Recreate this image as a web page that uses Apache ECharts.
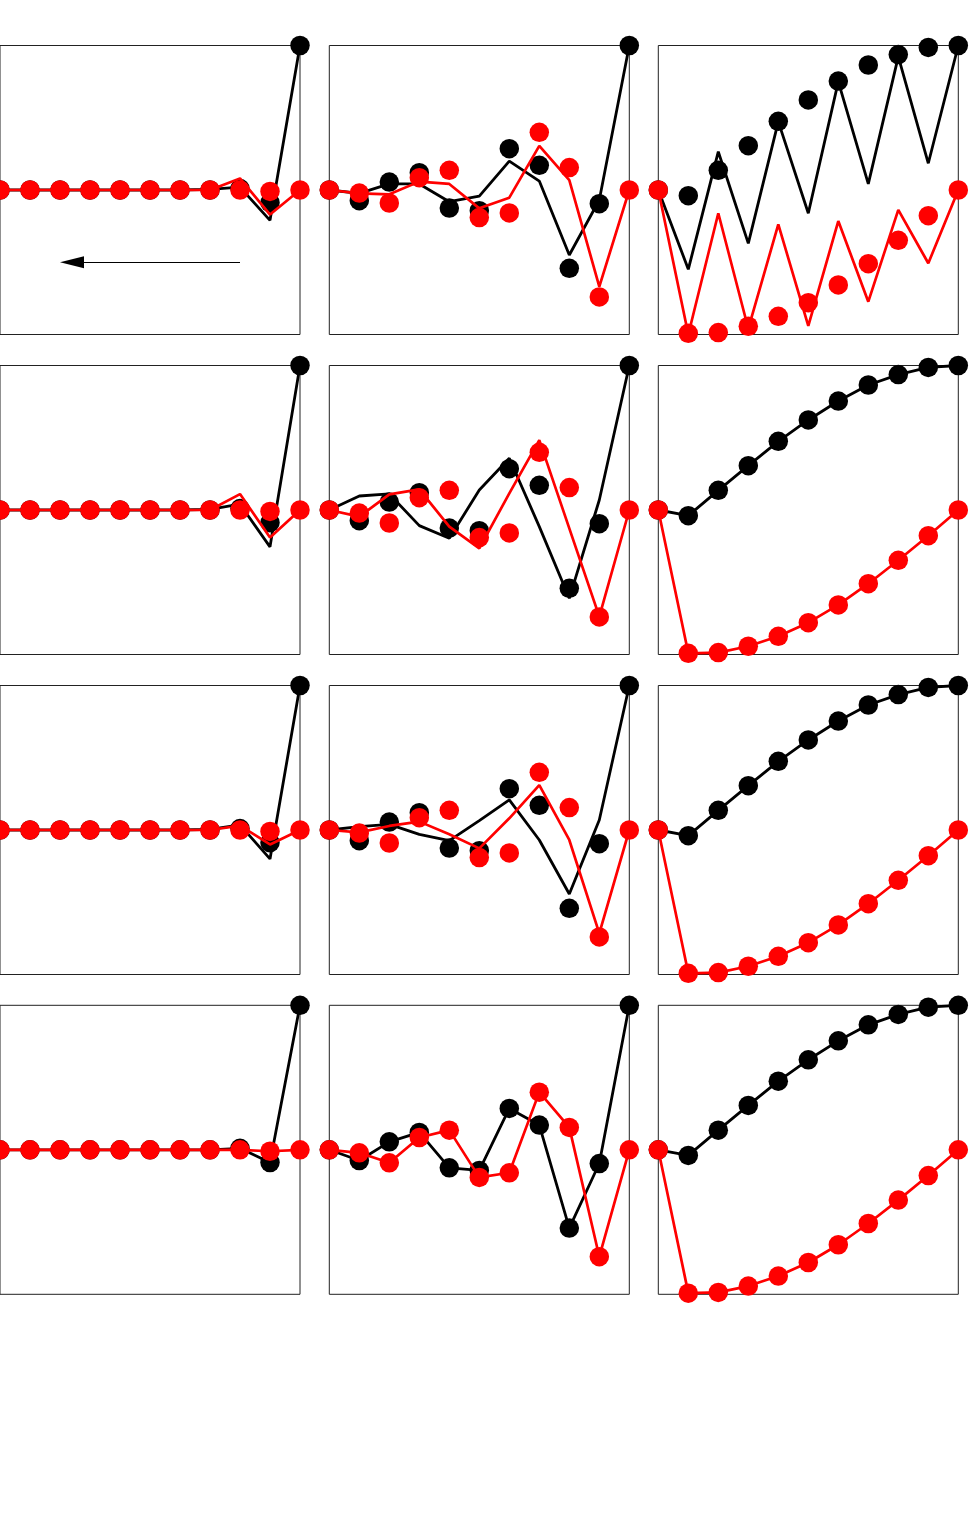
<!DOCTYPE html>
<html>
<head>
<meta charset="utf-8">
<script src="https://cdn.jsdelivr.net/npm/echarts@6/dist/echarts.min.js"></script>
<style>
  html, body { margin: 0; padding: 0; background: #fff; }
  #chart { width: 969px; height: 1522px; }
</style>
</head>
<body>
<div id="chart"></div>
<script>
  // 11 samples per panel
  const xs = [0, 1, 2, 3, 4, 5, 6, 7, 8, 9, 10]

  // dots are the same in every row of a column
  const col1BlackDots = [0, 0, 0, 0, 0, 0, 0, 0, 0.01, -0.088, 1]
  const col1RedDots = [0, 0, 0, 0, 0, 0, 0, 0, 0, -0.01, 0]
  const col2BlackDots = [0, -0.074, 0.055, 0.12, -0.125, -0.143, 0.286, 0.171, -0.542, -0.095, 1]
  const col2RedDots = [0, -0.021, -0.09, 0.085, 0.136, -0.191, -0.159, 0.399, 0.155, -0.74, 0]
  const col3BlackDots = [0, -0.039, 0.136, 0.307, 0.475, 0.623, 0.754, 0.865, 0.937, 0.987, 1]
  const col3RedDots = [0, -0.992, -0.987, -0.943, -0.874, -0.78, -0.657, -0.51, -0.348, -0.178, 0]

  // lines, one per row (top to bottom)
  const col1BlackLines = [
    [0, 0, 0, 0, 0, 0, 0, 0.005, 0.02, -0.21, 1],
    [0, 0, 0, 0, 0, 0, 0, 0.005, 0.04, -0.255, 1],
    [0, 0, 0, 0, 0, 0, 0, 0.005, 0.035, -0.2, 1],
    [0, 0, 0, 0, 0, 0, 0, 0, 0.01, -0.088, 1],
  ]
  const col1RedLines = [
    [0, 0, 0, 0, 0, 0, 0, 0, 0.08, -0.17, 0],
    [0, 0, 0, 0, 0, 0, 0, 0, 0.11, -0.19, 0],
    [0, 0, 0, 0, 0, 0, 0, 0, 0.03, -0.1, 0],
    [0, 0, 0, 0, 0, 0, 0, 0, 0, -0.01, 0],
  ]
  const col2BlackLines = [
    [0, -0.023, 0.042, 0.042, -0.081, -0.042, 0.2, 0.062, -0.45, -0.069, 1],
    [0, 0.097, 0.111, -0.108, -0.196, 0.138, 0.358, -0.115, -0.611, 0.069, 1],
    [0, 0.023, 0.039, -0.03, -0.074, 0.065, 0.208, -0.069, -0.443, 0.069, 1],
    [0, -0.074, 0.055, 0.12, -0.125, -0.143, 0.286, 0.171, -0.542, -0.095, 1],
  ]
  const col2RedLines = [
    [0, -0.023, -0.03, 0.058, 0.042, -0.127, -0.053, 0.305, 0.069, -0.669, 0],
    [0, -0.046, 0.108, 0.143, -0.115, -0.265, 0.115, 0.484, -0.127, -0.738, 0],
    [0, -0.016, 0.028, 0.058, -0.03, -0.127, 0.081, 0.311, -0.069, -0.715, 0],
    [0, -0.021, -0.09, 0.085, 0.136, -0.191, -0.159, 0.399, 0.155, -0.74, 0],
  ]
  const col3BlackLines = [
    [0, -0.549, 0.265, -0.369, 0.473, -0.161, 0.75, 0.042, 0.923, 0.185, 1],
    [0, -0.039, 0.136, 0.307, 0.475, 0.623, 0.754, 0.865, 0.937, 0.987, 1],
    [0, -0.039, 0.136, 0.307, 0.475, 0.623, 0.754, 0.865, 0.937, 0.987, 1],
    [0, -0.039, 0.136, 0.307, 0.475, 0.623, 0.754, 0.865, 0.937, 0.987, 1],
  ]
  const col3RedLines = [
    [0, -1.0, -0.161, -0.96, -0.238, -0.941, -0.215, -0.773, -0.138, -0.507, 0],
    [0, -0.992, -0.987, -0.943, -0.874, -0.78, -0.657, -0.51, -0.348, -0.178, 0],
    [0, -0.992, -0.987, -0.943, -0.874, -0.78, -0.657, -0.51, -0.348, -0.178, 0],
    [0, -0.992, -0.987, -0.943, -0.874, -0.78, -0.657, -0.51, -0.348, -0.178, 0],
  ]

  // arrow in the first panel (data coords)
  const arrowFrom = [8, -0.5]
  const arrowTo = [2.4, -0.5]

  const columns = [
    { black: col1BlackDots, red: col1RedDots, blackLines: col1BlackLines, redLines: col1RedLines },
    { black: col2BlackDots, red: col2RedDots, blackLines: col2BlackLines, redLines: col2RedLines },
    { black: col3BlackDots, red: col3RedDots, blackLines: col3BlackLines, redLines: col3RedLines },
  ]
  const colLeft = [0, 329.3, 658.3]
  const rowTop = [45.5, 365.5, 685.5, 1005.3]

  const pairs = (vals) => vals.map((v, i) => [xs[i], v])

  const grid = []
  const xAxis = []
  const yAxis = []
  const series = []

  rowTop.forEach((top, r) => {
    colLeft.forEach((left, c) => {
      const idx = grid.length
      const col = columns[c]
      grid.push({
        left: left,
        top: top,
        width: 300,
        height: 289,
        show: true,
        borderColor: '#222',
        borderWidth: 1,
        backgroundColor: 'transparent',
      })
      xAxis.push({ gridIndex: idx, type: 'value', min: 0, max: 10, show: false })
      yAxis.push({ gridIndex: idx, type: 'value', min: -1, max: 1, show: false })

      const blackLine = {
        type: 'line',
        xAxisIndex: idx,
        yAxisIndex: idx,
        data: pairs(col.blackLines[r]),
        showSymbol: false,
        clip: false,
        z: 2,
        lineStyle: { color: '#000', width: 2.8 },
      }
      if (idx === 0) {
        blackLine.markLine = {
          silent: true,
          symbol: ['none', 'triangle'],
          symbolSize: [12, 24],
          label: { show: false },
          lineStyle: { color: '#000', width: 1, type: 'solid' },
          itemStyle: { color: '#000' },
          data: [[{ coord: arrowFrom }, { coord: arrowTo }]],
        }
      }
      series.push(blackLine)
      series.push({
        type: 'scatter',
        xAxisIndex: idx,
        yAxisIndex: idx,
        data: pairs(col.black),
        symbolSize: 19.5,
        clip: false,
        z: 3,
        itemStyle: { color: '#000', opacity: 1 },
      })
      series.push({
        type: 'line',
        xAxisIndex: idx,
        yAxisIndex: idx,
        data: pairs(col.redLines[r]),
        showSymbol: false,
        clip: false,
        z: 4,
        lineStyle: { color: '#ff0000', width: 2.7 },
      })
      series.push({
        type: 'scatter',
        xAxisIndex: idx,
        yAxisIndex: idx,
        data: pairs(col.red),
        symbolSize: 19.5,
        clip: false,
        z: 5,
        itemStyle: { color: '#ff0000', opacity: 1 },
      })
    })
  })

  const chart = echarts.init(document.getElementById('chart'), null, { renderer: 'canvas' })
  chart.setOption({
    animation: false,
    backgroundColor: '#fff',
    grid: grid,
    xAxis: xAxis,
    yAxis: yAxis,
    series: series,
  })
</script>
</body>
</html>
